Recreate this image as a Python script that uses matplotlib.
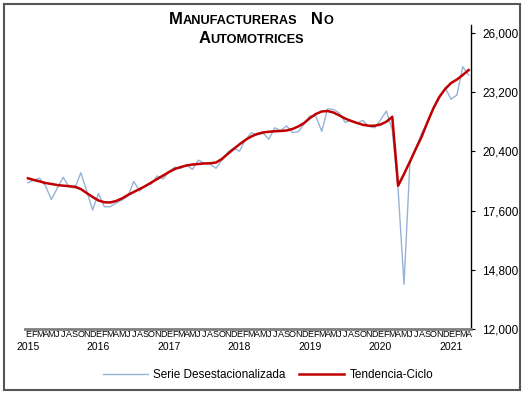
import matplotlib
matplotlib.use("Agg")
import matplotlib.pyplot as plt
from matplotlib.patches import Rectangle

plt.rcParams['font.family'] = ['Liberation Sans', 'DejaVu Sans']

# monthly values, Jan 2015 .. Apr 2021
serie = [18920, 19050, 19130, 18760, 18125, 18670, 19175, 18715, 18670, 19390,
         18530, 17630, 18410, 17785, 17785, 17960, 18100, 18270, 18980, 18530,
         18790, 18860, 19240, 19100, 19430, 19660, 19600, 19760, 19550, 19990,
         19840, 19800, 19600, 19990, 20370, 20550, 20410, 20940, 21285, 21180,
         21270, 20980, 21520, 21375, 21610, 21290, 21330, 21700, 22080, 22065,
         21350, 22420, 22380, 22215, 21770, 21870, 21730, 21870, 21580, 21520,
         21885, 22310, 21410, 18575, 14115, 19840, 20550, 21255, 21790, 22440,
         22910, 23415, 22865, 23070, 24405, 24015]
tendencia = [19130, 19050, 18980, 18905, 18860, 18810, 18780, 18755, 18730, 18620,
             18430, 18245, 18080, 17995, 17985, 18055, 18175, 18340, 18480, 18620,
             18765, 18930, 19095, 19260, 19425, 19570, 19660, 19735, 19780, 19805,
             19830, 19840, 19875, 20040, 20280, 20515, 20735, 20940, 21105, 21225,
             21295, 21330, 21355, 21365, 21390, 21460, 21580, 21745, 21980, 22170,
             22290, 22310, 22240, 22100, 21955, 21840, 21745, 21660, 21615, 21615,
             21675, 21805, 22040, 18780, 19330, 19915, 20515, 21095, 21790, 22440,
             22975, 23350, 23635, 23800, 24015, 24250]
meses = ['E', 'F', 'M', 'A', 'M', 'J', 'J', 'A', 'S', 'O', 'N', 'D']
anios = ['2015', '2016', '2017', '2018', '2019', '2020', '2021']
y_ticks = [12000, 14800, 17600, 20400, 23200, 26000]

fig = plt.figure(figsize=(5.26, 3.96), dpi=100)
ax = fig.add_axes([25 / 526, 1 - 329 / 396, 446 / 526, 304 / 396])

x = list(range(len(serie)))
l1, = ax.plot(x, serie, color='#95B3D7', lw=1.0, label='Serie Desestacionalizada')
l2, = ax.plot(x, tendencia, color='#C00000', lw=1.8, label='Tendencia-Ciclo')

ax.set_xlim(-0.5, 75.4)
ax.set_ylim(12000, 26380)
ax.yaxis.tick_right()
ax.set_yticks(y_ticks)
ax.set_yticklabels([f"{v:,}" for v in y_ticks], fontsize=8.5)
ax.tick_params(axis='y', direction='out', length=3, width=0.8, pad=5)
ax.set_xticks([])
for s in ['left', 'top']:
    ax.spines[s].set_visible(False)
ax.spines['right'].set_linewidth(1.0)
ax.spines['bottom'].set_color('#7f7f7f')
ax.spines['bottom'].set_linewidth(2.0)

# month letters and year labels under the axis
for i in x:
    ax.text(i, -0.004, meses[i % 12], transform=ax.get_xaxis_transform(),
            ha='center', va='top', fontsize=6.5, fontstretch='condensed')
for k, a in enumerate(anios):
    ax.text(k * 12, -0.042, a, transform=ax.get_xaxis_transform(),
            ha='center', va='top', fontsize=7.5)

# small caps title
def small_caps(parts, xc, y):
    r = fig.canvas.get_renderer()
    txts = []
    for s, fs in parts:
        t = fig.text(0, y, s, fontsize=fs, fontweight='bold', va='baseline')
        txts.append(t)
    widths = [t.get_window_extent(r).width for t in txts]
    x0 = xc * fig.bbox.width - sum(widths) / 2
    for t, w in zip(txts, widths):
        t.set_x(x0 / fig.bbox.width)
        x0 += w

small_caps([('M', 12), ('ANUFACTURERAS', 9.2), ('   N', 12), ('O', 9.2)], 251 / 526, 1 - 24 / 396)
small_caps([('A', 12), ('UTOMOTRICES', 9.2)], 251 / 526, 1 - 43 / 396)

fig.legend(handles=[l1, l2], loc='center', bbox_to_anchor=(268 / 526, 1 - 375 / 396),
           ncol=2, frameon=False, fontsize=8.5, handlelength=3.8, handletextpad=0.5,
           columnspacing=1.1)

fig.patches.append(Rectangle((4 / 526, 6 / 396), 516 / 526, 386 / 396, transform=fig.transFigure,
                             fill=False, edgecolor='#555555', lw=1.5))

fig.savefig('out.png', dpi=100)
